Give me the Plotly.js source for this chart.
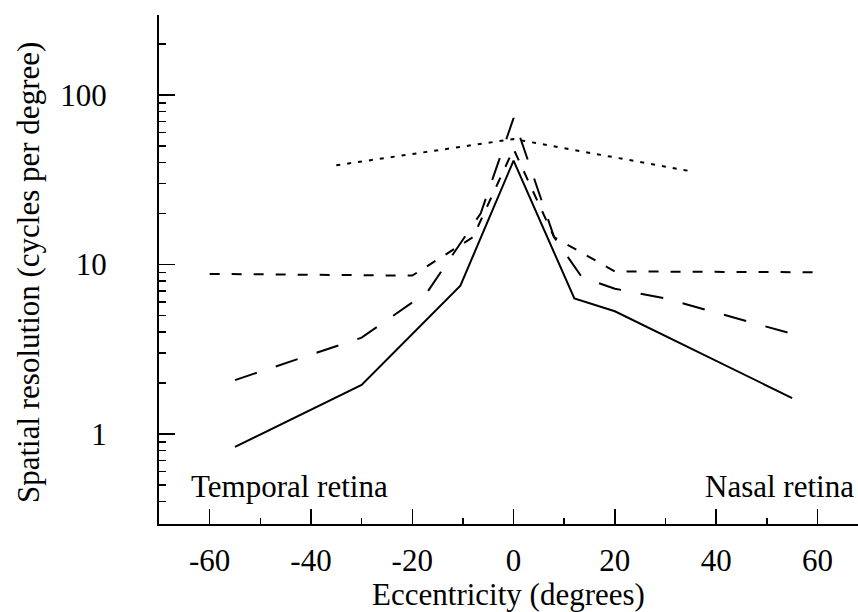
<!DOCTYPE html>
<html>
<head>
<meta charset="utf-8">
<script src="https://cdn.plot.ly/plotly-3.0.1.min.js"></script>
<style>html,body{margin:0;padding:0;background:#fff;}#chart{width:858px;height:612px;}</style>
</head>
<body>
<div id="chart"></div>
<script>
// Eccentricity (degrees) and spatial resolution (cycles per degree)
var solidX = [-55, -30, -10.5, 0, 12, 20, 55];
var solidY = [0.84, 1.95, 7.5, 41, 6.3, 5.3, 1.63];

var longDashX = [-55, -30, -17, -6.5, 0, 8, 13.5, 20, 30, 55];
var longDashY = [2.08, 3.7, 6.9, 20, 73, 14.5, 8.4, 7.2, 6.3, 3.9];

var shortDashX = [-60, -20, -8, 0, 8, 20, 60];
var shortDashY = [8.8, 8.6, 14.5, 48, 14.5, 9.1, 9.0];

var dottedX = [-35, 0, 35];
var dottedY = [38.5, 55, 35.5];

var xTickVals = [-60, -40, -20, 0, 20, 40, 60];
var yTickVals = [1, 10, 100];
var yTickText = ['1', '10', '100'];
var yMinorVals = [0.4, 0.5, 0.6, 0.7, 0.8, 0.9, 2, 3, 4, 5, 6, 7, 8, 9,
                  20, 30, 40, 50, 60, 70, 80, 90, 200];

var xTitle = 'Eccentricity (degrees)';
var yTitle = 'Spatial resolution (cycles per degree)';

var font = 'Liberation Serif, Times New Roman, serif';
var fs = 31;

function line(x, y, dash) {
  return {x: x, y: y, type: 'scatter', mode: 'lines', hoverinfo: 'skip',
    line: {color: '#000', width: 2, dash: dash}};
}

var data = [
  line(solidX, solidY, 'solid'),
  line(longDashX, longDashY, '23px,20px'),
  line(shortDashX, shortDashY, '10px,12px'),
  line(dottedX, dottedY, '4px,7px')
];

var layout = {
  width: 858, height: 612,
  margin: {l: 159, r: 0, t: 15, b: 88},
  paper_bgcolor: '#fff', plot_bgcolor: '#fff',
  showlegend: false,
  font: {family: font, size: fs, color: '#000'},
  xaxis: {
    range: [-70, 68], showgrid: false, zeroline: false,
    showline: true, linecolor: '#000', linewidth: 2,
    ticks: 'inside', ticklen: 15, tickwidth: 1.5, tickcolor: '#000',
    tickvals: xTickVals, ticktext: xTickVals.map(String),
    tickfont: {family: font, size: fs, color: '#000'},
    ticklabelstandoff: 8,
    minor: {ticks: 'inside', ticklen: 6, tickwidth: 1.5, tickcolor: '#000', dtick: 10, tick0: 0, showgrid: false},
    title: {text: xTitle, font: {family: font, size: fs, color: '#000'}, standoff: 0}
  },
  yaxis: {
    type: 'log', range: [-0.531, 2.472], showgrid: false, zeroline: false,
    showline: true, linecolor: '#000', linewidth: 2,
    ticks: 'inside', ticklen: 16, tickwidth: 1.5, tickcolor: '#000',
    tickvals: yTickVals, ticktext: yTickText,
    tickfont: {family: font, size: fs, color: '#000'},
    ticklabelstandoff: 44,
    minor: {ticks: 'inside', ticklen: 7, tickwidth: 1.5, tickcolor: '#000', tickmode: 'array', tickvals: yMinorVals, showgrid: false}
  },
  annotations: [
    {x: -0.1874, y: 0.493, xref: 'paper', yref: 'paper', text: yTitle, showarrow: false, textangle: -90,
     xanchor: 'center', yanchor: 'middle', font: {family: font, size: 31, color: '#000'}},
    {x: -64, y: Math.log10(0.49), xref: 'x', yref: 'y', text: 'Temporal retina', showarrow: false,
     xanchor: 'left', yanchor: 'middle', font: {family: font, size: fs, color: '#000'}},
    {x: 67.6, y: Math.log10(0.49), xref: 'x', yref: 'y', text: 'Nasal retina', showarrow: false,
     xanchor: 'right', yanchor: 'middle', font: {family: font, size: fs, color: '#000'}}
  ]
};

Plotly.newPlot('chart', data, layout, {displayModeBar: false, staticPlot: true});
</script>
</body>
</html>
